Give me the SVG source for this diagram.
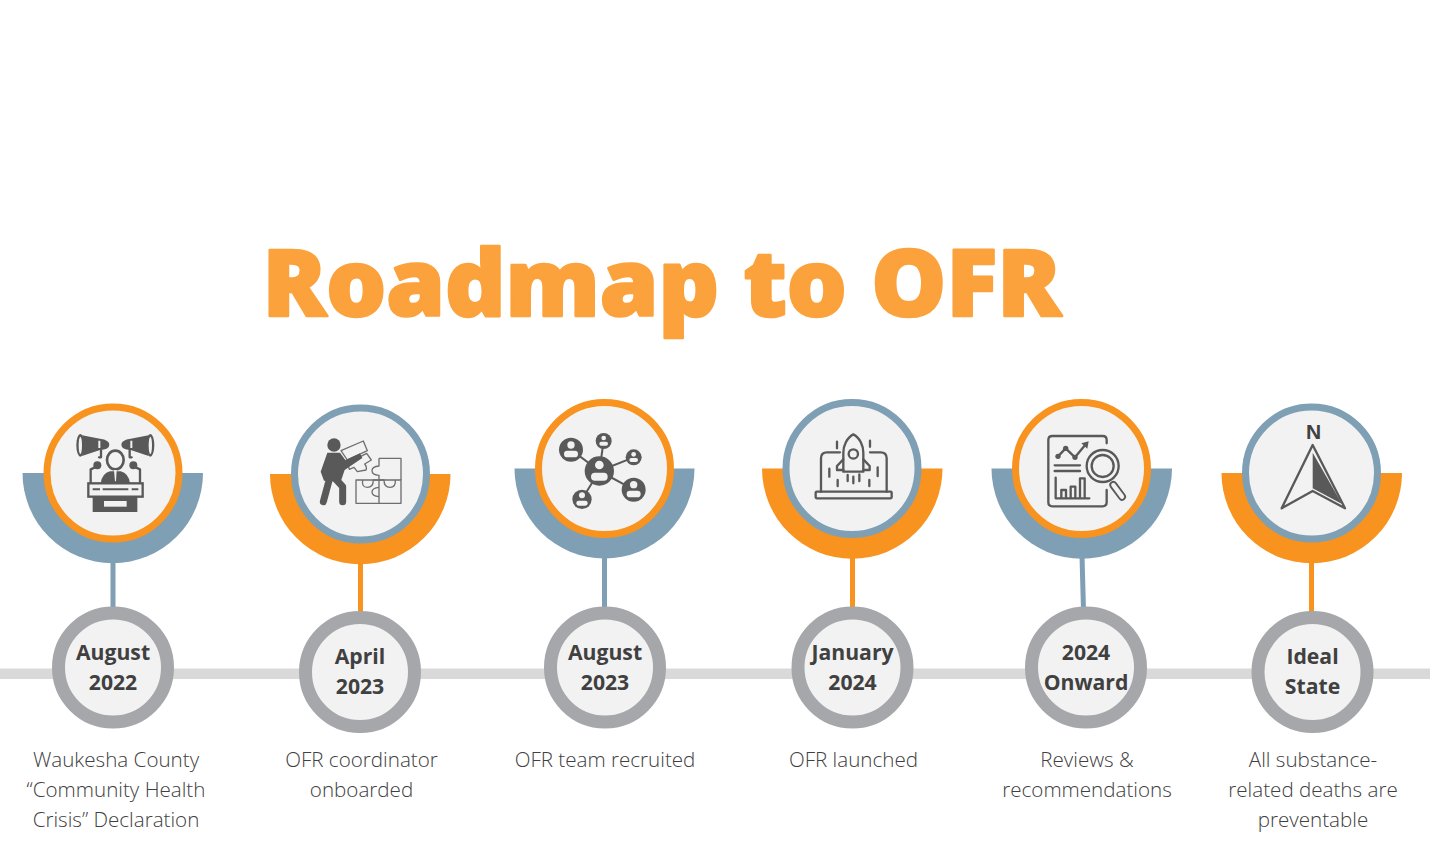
<svg xmlns="http://www.w3.org/2000/svg" width="1430" height="843" viewBox="0 0 1430 843">
<style>
.title{font-family:"Open Sans","Noto Sans",sans-serif;font-weight:800;font-size:92px;fill:#fba23c;stroke:#fba23c;stroke-width:2.500px;stroke-linejoin:round}
.date{font-family:"Open Sans","Noto Sans",sans-serif;font-weight:700;font-size:21.200px;fill:#404040;text-anchor:middle}
.cap{font-family:"Open Sans","Noto Sans",sans-serif;font-weight:300;font-size:20.600px;fill:#404040;text-anchor:middle}
.inner{fill:#f2f2f2;stroke-width:7}
.date-ring{fill:#f2f2f2;stroke:#a6a7ab;stroke-width:13}
.d{fill:#595959}
.o{fill:none;stroke:#595959;stroke-width:7;stroke-linecap:round;stroke-linejoin:round}
.b{fill:#7f9fb5}.y{fill:#f7931e}
.sb{stroke:#7f9fb5;stroke-width:5;fill:none}.sy{stroke:#f7931e;stroke-width:5;fill:none}
</style>
<rect width="1430" height="843" fill="#fff"/>
<text class="title" x="262.500" y="316" textLength="798.500" lengthAdjust="spacingAndGlyphs">Roadmap to OFR</text>
<g id="connectors">
<rect x="0" y="668.500" width="1430" height="10.500" fill="#d9d9d9"/>
<path class="sb" d="M113 560V610"/>
<path class="sy" d="M360.500 562V614"/>
<path class="sb" d="M604.500 556V610"/>
<path class="sy" d="M852.500 556V610"/>
<path class="sb" d="M1082 556L1083.500 610"/>
<path class="sy" d="M1311.500 560V614"/>
</g>
<g id="node-1">
<path class="b" d="M22.500 473H203A90.250 90.250 0 0 1 22.500 473Z"/>
<circle class="inner" cx="113" cy="473" r="66" stroke="#f7931e"/>
<g transform="translate(0,380) scale(.33333)">
<ellipse class="d" cx="241" cy="196" rx="12" ry="34"/>
<ellipse cx="241" cy="196" rx="5" ry="26" fill="#f2f2f2"/>
<path class="d" d="M246 166L300 176Q328 180 328 194Q328 208 300 210L246 228Q254 196 246 166Z"/>
<ellipse class="d" cx="451" cy="196" rx="12" ry="34"/>
<ellipse cx="451" cy="196" rx="5" ry="26" fill="#f2f2f2"/>
<path class="d" d="M446 166L392 176Q364 180 364 194Q364 208 392 210L446 228Q438 196 446 166Z"/>
<path d="M298 182V204M394 182V204" stroke="#f2f2f2" stroke-width="6"/>
<path class="o" d="M303 208V232H297M389 208V232H395"/>
<ellipse cx="346" cy="240" rx="25" ry="28" fill="#f2f2f2" stroke="#595959" stroke-width="8"/>
<path class="d" d="M302 310Q306 280 330 274H362Q386 280 390 310Z"/>
<path d="M342 270H350L348 304H345Z" fill="#f2f2f2"/>
<circle class="d" cx="292" cy="256" r="12"/><circle class="d" cx="400" cy="256" r="12"/>
<path class="o" d="M285 262L272 268V310M407 262L420 268V310"/>
<rect x="265" y="310" width="163" height="40" fill="#f2f2f2" stroke="#595959" stroke-width="7"/>
<path d="M278 328H300M308 328H385M395 328H415" stroke="#595959" stroke-width="6"/>
<rect class="d" x="278" y="350" width="134" height="46"/>
<rect x="312" y="363" width="68" height="17" fill="#f2f2f2"/>
</g>
</g>
<g id="node-2">
<path class="y" d="M270 474H450.500A90.250 90.250 0 0 1 270 474Z"/>
<circle class="inner" cx="360.500" cy="474" r="66" stroke="#7f9fb5"/>
<g transform="translate(310,430) scale(.33333)">
<g fill="none" stroke="#6e6e6e" stroke-width="4" stroke-linejoin="round">
<path d="M207 85H273V150M207 85V108Q186 110 186 122Q186 134 207 136V220"/>
<rect x="138" y="150" width="135" height="70"/>
<path d="M207 150H190Q190 172 172 172Q154 172 158 150M207 150H222Q222 172 240 172Q258 172 256 150M207 172Q186 174 186 186Q186 198 207 200"/>
<path d="M93 62L160 33L172 62L112 90ZM112 100L170 70L184 90L164 102Q172 112 168 120L142 125L132 112L118 118L112 100Z" fill="#f2f2f2"/>
</g>
<circle class="d" cx="72" cy="45" r="20"/>
<path class="d" d="M52 68L90 68L106 90L150 70L157 84L104 120L92 155L42 152L32 125Z"/>
<path d="M58 148L40 215M75 145L98 170V215" fill="none" stroke="#595959" stroke-width="21" stroke-linecap="round" stroke-linejoin="round"/>
</g>
</g>
<g id="node-3">
<path class="b" d="M514.500 468.500H694.500A90 90 0 0 1 514.500 468.500Z"/>
<circle class="inner" cx="604.500" cy="468.500" r="66" stroke="#f7931e"/>
<g transform="translate(500,380) scale(.33333)">
<path d="M298 273L213 209M298 273L311 183M298 273L401 232M298 273L401 329M298 273L246 358" stroke="#595959" stroke-width="6"/>
<g class="d"><circle cx="213" cy="209" r="36"/><circle cx="311" cy="183" r="24"/><circle cx="401" cy="232" r="24"/><circle cx="401" cy="329" r="36"/><circle cx="246" cy="358" r="29"/><circle cx="298" cy="273" r="44"/></g>
<g fill="#f2f2f2">
<circle cx="213" cy="195" r="11"/><rect x="192" y="212" width="42" height="20" rx="10"/>
<circle cx="311" cy="174" r="7"/><rect x="298" y="185" width="26" height="12" rx="6"/>
<circle cx="401" cy="223" r="7"/><rect x="388" y="234" width="26" height="12" rx="6"/>
<circle cx="401" cy="314" r="11"/><rect x="380" y="332" width="42" height="20" rx="10"/>
<circle cx="246" cy="346" r="9"/><rect x="229" y="362" width="34" height="15" rx="7"/>
<circle cx="298" cy="255" r="13"/><rect x="273" y="278" width="50" height="24" rx="12"/>
</g>
</g>
</g>
<g id="node-4">
<path class="y" d="M762 468.500H942.500A90.250 90.250 0 0 1 762 468.500Z"/>
<circle class="inner" cx="852" cy="468.500" r="66" stroke="#7f9fb5"/>
<g transform="translate(500,380) scale(.33333)">
<rect class="o" x="947" y="335" width="228" height="20" rx="3"/>
<path class="o" d="M963 335V235Q963 217 981 217H1020M1160 335V235Q1160 217 1142 217H1110"/>
<path class="o" d="M1060 163C1080 173 1090 198 1090 218V275H1030V218C1030 198 1040 173 1060 163Z"/>
<circle class="o" cx="1060" cy="222" r="14"/>
<path class="o" d="M1030 238L1011 258V270H1030M1090 238L1109 258V270H1090"/>
<path class="o" d="M1011 185V205M1110 182V200M988 266V290M1133 262V288M1013 300V318M1108 300V318M1043 285V303M1078 283V303M1060 290V310"/>
</g>
</g>
<g id="node-5">
<path class="b" d="M991.500 468.500H1172A90.250 90.250 0 0 1 991.500 468.500Z"/>
<circle class="inner" cx="1081.500" cy="468.500" r="66" stroke="#f7931e"/>
<g transform="translate(980,380) scale(.33333)">
<path class="o" d="M380 190V180Q380 168 368 168H217Q205 168 205 180V367Q205 379 217 379H368Q380 379 380 367V330"/>
<path class="o" d="M234 229L257 205L285 232L318 192"/>
<circle class="d" cx="234" cy="229" r="8"/><circle class="d" cx="257" cy="205" r="8"/><circle class="d" cx="285" cy="232" r="8"/>
<path class="d" d="M326 184L322 206L304 190Z"/>
<path class="o" d="M224 256H300M224 273H300M227 293V355H328M244 355V330H258V355M272 355V320H286V355M300 355V295H314V355"/>
<circle class="o" cx="368" cy="258" r="48"/><circle cx="368" cy="258" r="33" fill="none" stroke="#595959" stroke-width="7"/>
<path d="M400 315L426 350" stroke="#595959" stroke-width="24" stroke-linecap="round"/>
<path d="M400 315L426 350" stroke="#f2f2f2" stroke-width="13" stroke-linecap="round"/>
</g>
</g>
<g id="node-6">
<path class="y" d="M1221.500 473H1402A90.250 90.250 0 0 1 1221.500 473Z"/>
<circle class="inner" cx="1311.500" cy="473" r="66" stroke="#7f9fb5"/>
<g transform="translate(980,380) scale(.33333)">
<path class="o" d="M998 195L1095 385L998 333L905 385Z"/>
<path class="d" d="M998 218L1086 372L998 325Z"/>
</g>
<text x="1313.500" y="439" font-family="'Liberation Sans',sans-serif" font-weight="700" font-size="21" fill="#404040" text-anchor="middle">N</text>
</g>
<g id="date-1"><circle class="date-ring" cx="113" cy="667.500" r="54.500"/><text class="date" x="113" y="659.500">August</text><text class="date" x="113" y="689.500">2022</text></g>
<g id="date-2"><circle class="date-ring" cx="360" cy="672" r="54.500"/><text class="date" x="360" y="663.500">April</text><text class="date" x="360" y="693.500">2023</text></g>
<g id="date-3"><circle class="date-ring" cx="605" cy="667.500" r="54.500"/><text class="date" x="605" y="659.500">August</text><text class="date" x="605" y="689.500">2023</text></g>
<g id="date-4"><circle class="date-ring" cx="852.500" cy="667.500" r="54.500"/><text class="date" x="852.500" y="659.500">January</text><text class="date" x="852.500" y="689.500">2024</text></g>
<g id="date-5"><circle class="date-ring" cx="1086" cy="667.500" r="54.500"/><text class="date" x="1086" y="659.500">2024</text><text class="date" x="1086" y="689.500">Onward</text></g>
<g id="date-6"><circle class="date-ring" cx="1312.500" cy="672" r="54.500"/><text class="date" x="1312.500" y="663.500">Ideal</text><text class="date" x="1312.500" y="693.500">State</text></g>
<g id="captions">
<text class="cap" x="116" y="767">Waukesha County</text><text class="cap" x="116" y="797">“Community Health</text><text class="cap" x="116" y="827">Crisis” Declaration</text>
<text class="cap" x="361.500" y="767">OFR coordinator</text><text class="cap" x="361.500" y="797">onboarded</text>
<text class="cap" x="605" y="767">OFR team recruited</text>
<text class="cap" x="853.500" y="767">OFR launched</text>
<text class="cap" x="1087" y="767">Reviews &amp;</text><text class="cap" x="1087" y="797">recommendations</text>
<text class="cap" x="1313" y="767">All substance-</text><text class="cap" x="1313" y="797">related deaths are</text><text class="cap" x="1313" y="827">preventable</text>
</g>
</svg>
